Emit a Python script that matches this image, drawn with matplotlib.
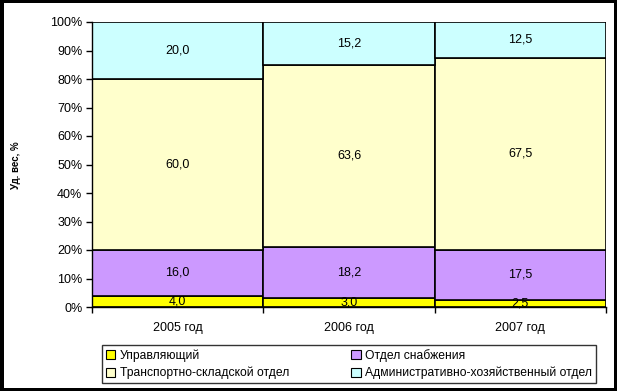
import matplotlib
matplotlib.use("Agg")
import matplotlib.pyplot as plt
from matplotlib.patches import Rectangle
import numpy as np

plt.rcParams['font.family'] = ['Liberation Sans', 'DejaVu Sans']

years = ["2005 год", "2006 год", "2007 год"]
series_names = ["Управляющий", "Отдел снабжения", "Транспортно-складской отдел",
                "Административно-хозяйственный отдел"]
manager = [4.0, 3.0, 2.5]
supply = [16.0, 18.2, 17.5]
transport = [60.0, 63.6, 67.5]
admin = [20.0, 15.2, 12.5]
yticks = [0, 10, 20, 30, 40, 50, 60, 70, 80, 90, 100]
colors = ["#FFFF00", "#CC99FF", "#FFFFCC", "#CCFFFF"]

W, H = 617, 391
fig = plt.figure(figsize=(W / 100, H / 100), dpi=100, facecolor="black")
fig.patches.append(Rectangle((4 / W, 3 / H), (W - 7) / W, (H - 6) / H,
                             transform=fig.transFigure, facecolor="white",
                             edgecolor="none", zorder=-10))

ax = fig.add_axes([92 / W, 1 - 307 / H, (606 - 92) / W, (307 - 22) / H])
ax.patch.set_alpha(0)

x = np.arange(len(years))
data = [manager, supply, transport, admin]
bottom = np.zeros(len(years))
for vals, c in zip(data, colors):
    v = np.array(vals)
    ax.bar(x, v, bottom=bottom, width=1.0, color=c, edgecolor="black", linewidth=1.2)
    for xi, b, vi in zip(x, bottom, v):
        ax.text(xi, b + vi / 2, f"{vi:.1f}".replace(".", ","), ha="center", va="center",
                fontsize=9, color="black")
    bottom = bottom + v

ax.set_xlim(-0.5, len(years) - 0.5)
ax.set_ylim(0, 100)
ax.set_yticks(yticks)
ax.set_yticklabels([f"{t}%" for t in yticks], fontsize=9)
ax.set_xticks(x)
ax.set_xticklabels(years, fontsize=9)
ax.tick_params(axis="x", length=0, pad=11)
ax.set_xticks(np.arange(-0.5, len(years), 1.0), minor=True)
ax.tick_params(axis="x", which="minor", length=4, direction="out", width=1)
ax.tick_params(axis="y", length=4, direction="out", width=1, pad=3)
for s in ["top", "right"]:
    ax.spines[s].set_visible(False)
ax.spines["left"].set_linewidth(1)
ax.spines["bottom"].set_linewidth(1)

fig.text(16 / W, 1 - 165 / H, "Уд. вес, %", rotation=90, ha="center", va="center",
         fontsize=7, fontweight="bold")

handles = [Rectangle((0, 0), 1, 1, facecolor=c, edgecolor="black", linewidth=0.8)
           for c in colors]
order = [0, 2, 1, 3]
leg = fig.legend([handles[i] for i in order], [series_names[i] for i in order],
                 ncol=2, loc="lower left",
                 bbox_to_anchor=(102 / W, 1 - 383 / H, (596 - 102) / W, 40 / H),
                 mode="expand", fontsize=8.7, frameon=True, fancybox=False,
                 handlelength=0.8, handleheight=0.8, handletextpad=0.4,
                 borderpad=0.3, labelspacing=0.4, columnspacing=1.0, borderaxespad=0)
leg.get_frame().set_edgecolor("black")
leg.get_frame().set_linewidth(1)

fig.savefig("out.png", dpi=100, facecolor="black")
